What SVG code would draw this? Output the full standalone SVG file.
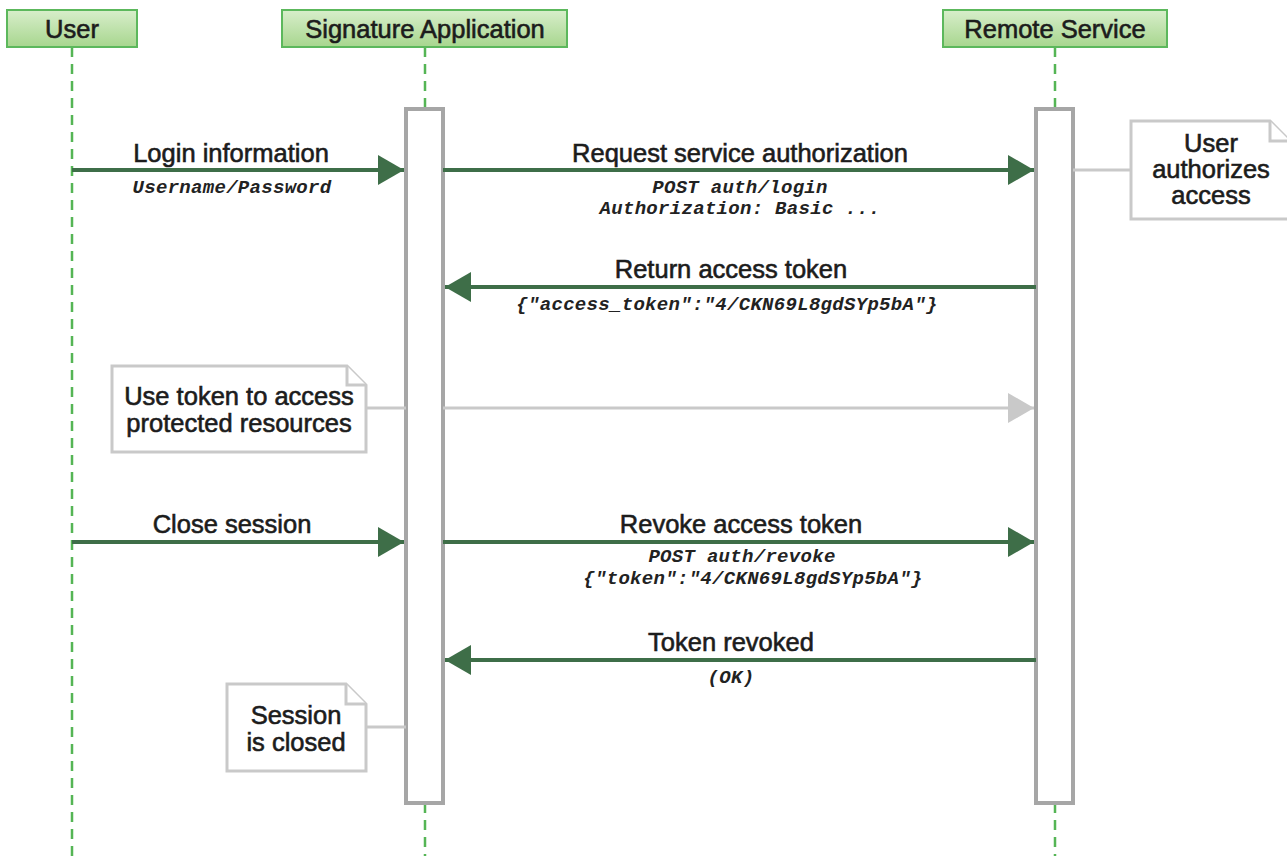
<svg xmlns="http://www.w3.org/2000/svg" width="1287" height="856" viewBox="0 0 1287 856">
<defs>
<linearGradient id="hg" x1="0" y1="0" x2="0" y2="1">
<stop offset="0" stop-color="#d8eecb"/>
<stop offset="1" stop-color="#a7d68e"/>
</linearGradient>
<marker id="ag" viewBox="0 0 26 30" refX="26" refY="15" markerUnits="userSpaceOnUse" markerWidth="26" markerHeight="30" orient="auto">
<path d="M0,0 L26,15 L0,30 Z" fill="#3e6e48"/>
</marker>
<marker id="agray" viewBox="0 0 26 30" refX="26" refY="15" markerUnits="userSpaceOnUse" markerWidth="26" markerHeight="30" orient="auto">
<path d="M0,0 L26,15 L0,30 Z" fill="#c9c9c9"/>
</marker>
<style>
.hdr{fill:url(#hg);stroke:#5cb85c;stroke-width:2}
.life{stroke:#55b555;stroke-width:2.5;stroke-dasharray:10 7;fill:none}
.act{fill:#fff;stroke:#a6a6a6;stroke-width:4}
.msg{stroke:#3e6e48;stroke-width:4;fill:none}
.gray{stroke:#c9c9c9;stroke-width:3;fill:none}
.note{fill:#fff;stroke:#c9c9c9;stroke-width:3;stroke-linejoin:miter}
.t{font-family:"Liberation Sans",Arial,sans-serif;font-size:25.5px;fill:#1c1c1c;text-anchor:middle;stroke:#1c1c1c;stroke-width:0.6}
.m{font-family:"Liberation Mono","Courier New",monospace;font-size:19px;font-weight:bold;font-style:italic;fill:#222;text-anchor:middle;letter-spacing:0.3px}
</style>
</defs>
<rect width="1287" height="856" fill="#fff"/>

<g id="lifelines">
<line class="life" x1="72" y1="47" x2="72" y2="856"/>
<line class="life" x1="425" y1="47" x2="425" y2="109"/>
<line class="life" x1="425" y1="803" x2="425" y2="856"/>
<line class="life" x1="1055" y1="47" x2="1055" y2="109"/>
<line class="life" x1="1055" y1="803" x2="1055" y2="856"/>
</g>

<g id="user">
<rect class="hdr" x="7" y="10" width="130" height="37"/>
<text class="t" x="72" y="38">User</text>
</g>
<g id="signature-application">
<rect class="hdr" x="282" y="10" width="285" height="37"/>
<text class="t" x="425" y="38">Signature Application</text>
</g>
<g id="remote-service">
<rect class="hdr" x="943" y="10" width="224" height="37"/>
<text class="t" x="1055" y="38">Remote Service</text>
</g>

<g id="activation-app">
<rect class="act" x="406" y="109" width="37" height="694"/>
</g>
<g id="activation-remote">
<rect class="act" x="1036" y="109" width="37" height="694"/>
</g>

<g id="connectors">
<line class="msg" x1="72" y1="170" x2="404" y2="170" marker-end="url(#ag)"/>
<line class="msg" x1="443" y1="170" x2="1034" y2="170" marker-end="url(#ag)"/>
<line class="msg" x1="1036" y1="287" x2="445" y2="287" marker-end="url(#ag)"/>
<line class="gray" x1="443" y1="408" x2="1034" y2="408" marker-end="url(#agray)"/>
<line class="msg" x1="72" y1="542" x2="404" y2="542" marker-end="url(#ag)"/>
<line class="msg" x1="443" y1="542" x2="1034" y2="542" marker-end="url(#ag)"/>
<line class="msg" x1="1036" y1="660" x2="445" y2="660" marker-end="url(#ag)"/>
<line class="gray" x1="1073" y1="170" x2="1131" y2="170"/>
<line class="gray" x1="366" y1="408" x2="406" y2="408"/>
<line class="gray" x1="366" y1="727" x2="406" y2="727"/>
</g>

<g id="labels">
<text class="t" x="231" y="162">Login information</text>
<text class="m" x="232" y="193">Username/Password</text>
<text class="t" x="740" y="162">Request service authorization</text>
<text class="m" x="740" y="193">POST auth/login</text>
<text class="m" x="740" y="214">Authorization: Basic ...</text>
<text class="t" x="731" y="278">Return access token</text>
<text class="m" x="727" y="310">{"access_token":"4/CKN69L8gdSYp5bA"}</text>
<text class="t" x="232" y="533">Close session</text>
<text class="t" x="741" y="533">Revoke access token</text>
<text class="m" x="742" y="562">POST auth/revoke</text>
<text class="m" x="753" y="584">{"token":"4/CKN69L8gdSYp5bA"}</text>
<text class="t" x="731" y="651">Token revoked</text>
<text class="m" x="731" y="683">(OK)</text>
</g>

<g id="note-authorizes">
<path class="note" d="M1131,121 H1270 L1290,141 V219 H1131 Z"/>
<path class="note" d="M1270,121 V141 H1290" fill="none"/>
<text class="t" x="1211" y="152">User</text>
<text class="t" x="1211" y="178">authorizes</text>
<text class="t" x="1211" y="204">access</text>
</g>

<g id="note-use-token">
<path class="note" d="M112,366 H347 L366,385 V452 H112 Z"/>
<path class="note" d="M347,366 V385 H366" fill="none"/>
<text class="t" x="239" y="405">Use token to access</text>
<text class="t" x="239" y="432">protected resources</text>
</g>

<g id="note-session-closed">
<path class="note" d="M227,684 H346 L366,704 V771 H227 Z"/>
<path class="note" d="M346,684 V704 H366" fill="none"/>
<text class="t" x="296" y="724">Session</text>
<text class="t" x="296" y="751">is closed</text>
</g>
</svg>
